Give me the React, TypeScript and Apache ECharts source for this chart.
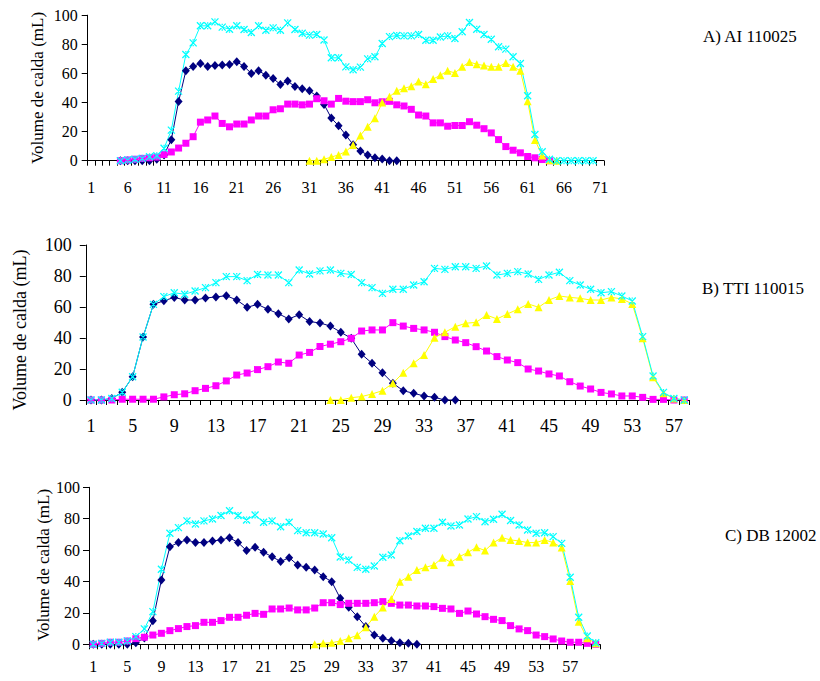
import React, { useEffect, useRef } from "react";
import * as echarts from "echarts";

// ---------- Data ----------
const catCountA = 71;
const catCountB = 58;
const catCountC = 60;

// Chart A) AI 110025
const aNavyStart = 5;
const aNavy = [0, 0, 0, 0, 0, 1, 4, 14.4, 40.7, 61.8, 64.8, 66.8, 64.8, 65.4, 65.7, 66.1, 68, 64.8, 60, 61.8, 58.8, 56.5, 52.4, 54.7, 51, 49.4, 48, 44.4, 38.7, 29.3, 24, 17.6, 11, 6.7, 3.9, 2, 1.1, 0, 0];
const aMagentaStart = 5;
const aMagenta = [0, 0.5, 1, 1.6, 2, 2.5, 4.3, 6, 8.7, 12, 16.5, 26.5, 28, 30.7, 25.6, 23.3, 25.2, 25.2, 28, 30.7, 30.7, 35, 35.7, 38.9, 38.9, 38.4, 38.9, 42.6, 41.2, 38.9, 42.8, 40.9, 40.6, 40.6, 41.9, 39.8, 40.5, 40.8, 38.4, 37.6, 35.3, 31.4, 30.7, 26, 26, 23.7, 24.2, 24.2, 26.8, 24.4, 22, 19.1, 14.5, 9.7, 7.2, 5.4, 2.9, 2, 0.8, 0];
const aYellowStart = 31;
const aYellow = [0, 0, 1, 2.5, 4, 6.3, 10.8, 17.4, 23.4, 29.1, 40, 44, 48, 49.8, 51.1, 54.5, 52.5, 56.1, 58.7, 61.8, 60.3, 64.6, 67.8, 66.3, 65.4, 64.6, 64.6, 67.2, 64.6, 61.8, 40.8, 14.3, 3.5, 0.3, 0];
const aCyanStart = 5;
const aCyan = [0, 0.5, 1, 1.6, 2.7, 3.4, 8.5, 21, 47.8, 73, 81, 92.7, 92.7, 95.4, 91.8, 90.4, 92.7, 90.2, 88.1, 92.7, 89.7, 91.3, 89.7, 94.7, 90.2, 87.6, 86.3, 86.7, 83, 70.7, 70.7, 64.5, 62.5, 64.3, 70, 71.4, 80.5, 85.3, 86, 85.8, 85.8, 86.7, 82.8, 82.8, 85, 85.8, 84, 88.6, 95, 90.4, 86.7, 83.5, 78.3, 76.7, 71.4, 66.8, 44.6, 18, 6.2, 1, 0, 0, 0, 0, 0, 0];

// Chart B) TTI 110015
const bNavyStart = 1;
const bNavy = [0, 0, 1, 5, 15, 40.6, 61.7, 64, 66.2, 64.5, 64.5, 65.8, 66.5, 67.3, 64.5, 59.8, 61.7, 58.5, 55.7, 52.3, 55, 50.6, 49.7, 47.7, 43.7, 39.8, 29.5, 23.7, 17.6, 10.8, 6, 4.3, 2.6, 1.7, 0, 0];
const bMagentaStart = 1;
const bMagenta = [0, 0, 0, 0.5, 0.5, 0.5, 0.5, 2, 3.4, 4, 6, 7.5, 9.2, 12.3, 16.1, 17.4, 19.6, 21.5, 24.5, 23.7, 29, 30.7, 34.5, 36, 37.6, 39.8, 44.5, 45.2, 45.2, 49.9, 47.7, 46.2, 45.2, 43.7, 40.9, 38.7, 37, 34.4, 31.6, 28, 25.8, 24.1, 20, 18.7, 16.8, 15.5, 11.8, 9, 7.1, 4.9, 3.9, 2.6, 2.6, 1.7, 0.4, 0.4, 0, 0];
const bYellowStart = 24;
const bYellow = [0, 0, 1.5, 2.2, 3.9, 6, 10.8, 17.6, 23.7, 29, 40.2, 43.7, 47.3, 49.5, 50.1, 54.8, 52.3, 55.5, 58.5, 62, 59.8, 64.5, 67.1, 66.2, 65.6, 64.5, 64.5, 66.2, 65.2, 62, 39.8, 14.6, 4.3, 1, 0];
const bCyanStart = 1;
const bCyan = [0, 0, 1, 5, 15, 40.6, 61.7, 66.7, 69.2, 68.2, 70.3, 72.5, 75.7, 79.6, 79.6, 77, 81, 80.6, 80.6, 75.7, 83.9, 81.3, 83.3, 83.9, 81.7, 81, 75.7, 72.5, 68.8, 71.4, 71.4, 74.2, 76.3, 84.9, 84.3, 86, 86, 84.9, 86.5, 80.6, 81.7, 82.8, 81.3, 77.8, 80.6, 82.4, 77, 74.2, 71.4, 69.2, 69.9, 67.1, 63.9, 40.9, 15.5, 4.9, 1, 0];

// Chart C) DB 12002
const cNavyStart = 1;
const cNavy = [0, 0, 0, 0, 0, 1, 4, 15, 41, 62.2, 64.8, 66.5, 64.8, 64.8, 65.8, 66.5, 67.9, 64.8, 59.7, 61.8, 58.6, 55.8, 52.7, 55.2, 50.5, 49, 47.3, 43.1, 39.9, 29.3, 23.6, 17.6, 11.3, 6, 3.8, 2.3, 1, 0.6, 0];
const cMagentaStart = 1;
const cMagenta = [0, 0.6, 1.3, 1.3, 2.1, 3.6, 4.5, 5.9, 7, 8.7, 10, 11.3, 11.9, 14, 14, 15.1, 17.2, 17.2, 18.5, 19.7, 19.1, 22.5, 22.5, 23.1, 21.9, 21.9, 23.1, 26.5, 26.5, 25.3, 26.1, 26.1, 26.1, 26.5, 27.2, 26.1, 25, 25, 24.4, 24.4, 24, 22.9, 22.5, 19.7, 21.2, 19.3, 17.6, 15.9, 15.1, 11.9, 9.8, 8.7, 5.9, 4.9, 3.4, 2.1, 1.3, 1.3, 0.6, 0];
const cYellowStart = 27;
const cYellow = [0, 0.6, 1, 2.1, 3.8, 5.7, 10.8, 17.6, 23.4, 28.9, 39.9, 43.1, 47.3, 49, 50.5, 55.2, 52.2, 55.8, 58.6, 61.8, 59.7, 64.8, 67.9, 66.5, 65.8, 64.8, 64.8, 66.5, 64.8, 61.6, 40.3, 14.4, 3.8, 0.6];
const cCyanStart = 1;
const cCyan = [0, 0.6, 1.3, 1.3, 2.1, 4.9, 9.8, 20.8, 47.8, 70.7, 74.3, 78.6, 76.6, 78.6, 79.8, 82, 85.1, 82, 79.2, 82.4, 77.7, 78.6, 74.9, 77.7, 72.4, 71.1, 71.1, 70.3, 67.9, 55.6, 53.7, 49, 47.8, 49.9, 55.4, 56.9, 66, 69, 71.8, 73.9, 73.9, 77.7, 75.4, 76, 79.8, 81.3, 78.1, 79.6, 82.8, 78.8, 76, 72.8, 70.7, 71.1, 68.6, 64.3, 42.7, 17.2, 5.3, 1];

const titles = ["A) AI 110025", "B) TTI 110015", "C) DB 12002"];
const yName = "Volume de calda (mL)";
const yTicks = { min: 0, max: 100, interval: 20 };

// ---------- Helpers ----------
const FONT = "'Liberation Serif', 'Times New Roman', serif";
const COLORS = { navy: "#000080", magenta: "#FF00FF", yellow: "#FFFF00", cyan: "#00FFFF" };
const X_SYMBOL = "path://M0,0L10,10M10,0L0,10M5,0L5,2M5,8L5,10";

function cats(n: number): string[] {
  const out: string[] = [];
  for (let i = 1; i <= n; i++) out.push(String(i));
  return out;
}

function pad(start: number, values: number[], n: number): (number | null)[] {
  const out: (number | null)[] = [];
  for (let i = 1; i <= n; i++) {
    const k = i - start;
    out.push(k >= 0 && k < values.length ? values[k] : null);
  }
  return out;
}

function seriesFor(idx: number, n: number, navy: [number, number[]], mag: [number, number[]], yel: [number, number[]], cyan: [number, number[]]) {
  const base = { type: "line", xAxisIndex: idx, yAxisIndex: idx, showAllSymbol: true, connectNulls: false, lineStyle: { width: 1 } };
  return [
    { ...base, name: "navy" + idx, data: pad(navy[0], navy[1], n), symbol: "diamond", symbolSize: [8, 9], itemStyle: { color: COLORS.navy }, lineStyle: { width: 1, color: COLORS.navy } },
    { ...base, name: "mag" + idx, data: pad(mag[0], mag[1], n), symbol: "rect", symbolSize: 7, itemStyle: { color: COLORS.magenta }, lineStyle: { width: 1, color: COLORS.magenta } },
    { ...base, name: "yel" + idx, data: pad(yel[0], yel[1], n), symbol: "triangle", symbolSize: 8, itemStyle: { color: COLORS.yellow }, lineStyle: { width: 1, color: COLORS.yellow } },
    { ...base, name: "cyan" + idx, data: pad(cyan[0], cyan[1], n), symbol: X_SYMBOL, symbolSize: 7, itemStyle: { color: COLORS.cyan, borderColor: COLORS.cyan, borderWidth: 1.3 }, lineStyle: { width: 1, color: COLORS.cyan } },
  ];
}

function xAxisFor(idx: number, n: number, labelInterval: number, margin: number, fontSize: number) {
  return {
    type: "category",
    gridIndex: idx,
    data: cats(n),
    boundaryGap: true,
    axisLine: { show: true, lineStyle: { color: "#000", width: 1 } },
    axisTick: { show: true, interval: 0, length: 5, lineStyle: { color: "#000", width: 1 } },
    axisLabel: { interval: labelInterval, margin, fontSize, fontFamily: FONT, color: "#000" },
    splitLine: { show: false },
  };
}

function yAxisFor(idx: number, margin: number, fontSize: number) {
  return {
    type: "value",
    gridIndex: idx,
    min: yTicks.min,
    max: yTicks.max,
    interval: yTicks.interval,
    axisLine: { show: true, lineStyle: { color: "#000", width: 1 } },
    axisTick: { show: true, length: 6, lineStyle: { color: "#000", width: 1 } },
    axisLabel: { margin, fontSize, fontFamily: FONT, color: "#000" },
    splitLine: { show: false },
  };
}

function textEl(text: string, x: number, y: number, fontSize: number, rotate: boolean, align: string) {
  return {
    type: "text",
    x,
    y,
    rotation: rotate ? Math.PI / 2 : 0,
    style: { text, fontSize, fontFamily: FONT, fill: "#000", textAlign: align, textVerticalAlign: "middle" },
  };
}

export default function App() {
  const ref = useRef<HTMLDivElement>(null);

  useEffect(() => {
    document.body.style.margin = "0";
    if (!ref.current) return;
    const chart = echarts.init(ref.current, undefined, { renderer: "svg" });
    const option = {
      animation: false,
      backgroundColor: "#fff",
      grid: [
        { left: 87.7, top: 15.2, width: 516.3, height: 145.5, containLabel: false },
        { left: 85.8, top: 245, width: 603.7, height: 155, containLabel: false },
        { left: 89, top: 487.3, width: 511, height: 157, containLabel: false },
      ],
      xAxis: [
        xAxisFor(0, catCountA, 4, 19, 16),
        xAxisFor(1, catCountB, 3, 17, 18),
        xAxisFor(2, catCountC, 3, 14, 16),
      ],
      yAxis: [yAxisFor(0, 10, 16), yAxisFor(1, 14, 18), yAxisFor(2, 9, 16)],
      series: [
        ...seriesFor(0, catCountA, [aNavyStart, aNavy], [aMagentaStart, aMagenta], [aYellowStart, aYellow], [aCyanStart, aCyan]),
        ...seriesFor(1, catCountB, [bNavyStart, bNavy], [bMagentaStart, bMagenta], [bYellowStart, bYellow], [bCyanStart, bCyan]),
        ...seriesFor(2, catCountC, [cNavyStart, cNavy], [cMagentaStart, cMagenta], [cYellowStart, cYellow], [cCyanStart, cCyan]),
      ],
      graphic: [
        textEl(yName, 37, 88, 17, true, "center"),
        textEl(yName, 20, 330, 18, true, "center"),
        textEl(yName, 43, 565, 17, true, "center"),
        textEl(titles[0], 703, 36, 17, false, "left"),
        textEl(titles[1], 702, 288, 17, false, "left"),
        textEl(titles[2], 725, 535, 17, false, "left"),
      ],
    };
    chart.setOption(option as any);
    return () => chart.dispose();
  }, []);

  return <div ref={ref} style={{ width: 820, height: 681 }} />;
}
